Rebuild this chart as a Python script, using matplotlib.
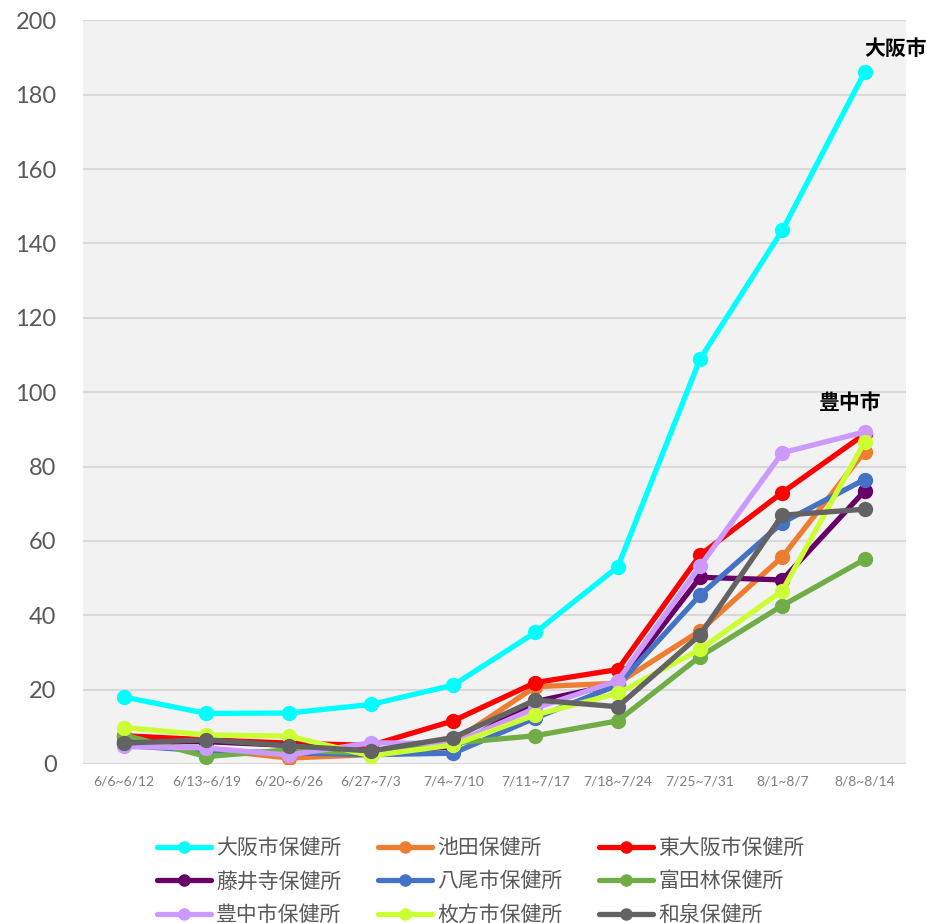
import matplotlib
matplotlib.use("Agg")
import matplotlib.pyplot as plt

plt.rcParams['font.family'] = ['Noto Sans CJK JP', 'DejaVu Sans']

weeks = ["6/6~6/12", "6/13~6/19", "6/20~6/26", "6/27~7/3", "7/4~7/10",
         "7/11~7/17", "7/18~7/24", "7/25~7/31", "8/1~8/7", "8/8~8/14"]

osaka      = [18.0, 13.6, 13.7, 16.0, 21.2, 35.4, 53.0, 108.9, 143.5, 186.0]
ikeda      = [5.5, 4.0, 1.6, 2.5, 6.0, 20.8, 21.7, 35.8, 55.7, 84.0]
higashi    = [7.6, 6.5, 5.6, 5.0, 11.6, 21.9, 25.4, 56.2, 73.0, 88.7]
fujiidera  = [6.0, 6.0, 5.0, 3.5, 4.5, 16.8, 21.5, 50.2, 49.5, 73.4]
yao        = [5.0, 3.5, 3.0, 2.5, 2.9, 12.4, 21.2, 45.4, 64.9, 76.5]
tondabayashi = [7.8, 2.0, 3.8, 2.9, 5.6, 7.6, 11.6, 28.9, 42.6, 55.0]
toyonaka   = [4.7, 4.3, 2.4, 5.7, 5.5, 15.0, 22.4, 53.2, 83.7, 89.3]
hirakata   = [9.8, 7.8, 7.5, 2.2, 5.1, 13.2, 19.0, 30.8, 46.6, 86.6]
izumi      = [5.6, 6.5, 4.9, 3.5, 7.1, 17.2, 15.4, 34.7, 66.9, 68.5]

names = ["大阪市保健所", "池田保健所", "東大阪市保健所", "藤井寺保健所", "八尾市保健所",
         "富田林保健所", "豊中市保健所", "枚方市保健所", "和泉保健所"]
series = [osaka, ikeda, higashi, fujiidera, yao, tondabayashi, toyonaka, hirakata, izumi]
colors = ["#00FFFF", "#ED7D31", "#FF0000", "#660066", "#4472C4",
          "#70AD47", "#CC99FF", "#CCFF33", "#636363"]

fig = plt.figure(figsize=(9.28, 9.23), dpi=100)
ax = fig.add_axes([0.0894, 0.1723, 0.8866, 0.8057])
ax.set_facecolor("#F2F2F2")

x = list(range(len(weeks)))
handles = []
for name, vals, c in zip(names, series, colors):
    h, = ax.plot(x, vals, color=c, lw=3.8, marker='o', markersize=10, label=name,
                 solid_joinstyle='round', solid_capstyle='round')
    handles.append(h)

ax.set_xlim(-0.5, len(weeks) - 0.5)
ax.set_ylim(0, 200)
ax.set_yticks(range(0, 201, 20))
ax.set_xticks(x)
ax.set_xticklabels(weeks, fontsize=10, color="#7F7F7F", family=['Lato', 'DejaVu Sans'])
for lab in ax.get_yticklabels():
    lab.set_family(['Lato', 'DejaVu Sans'])
ax.tick_params(axis='y', labelsize=17, labelcolor="#595959", length=0, pad=19)
ax.tick_params(axis='x', length=0, pad=8)
ax.grid(axis='y', color="#D9D9D9", lw=1.5)
ax.set_axisbelow(True)
for s in ax.spines.values():
    s.set_visible(False)

ax.text(9.38, 192.3, "大阪市", fontsize=15, fontweight='bold', ha='center', va='center', color='black')
ax.text(8.83, 97.3, "豊中市", fontsize=15, fontweight='bold', ha='center', va='center', color='black')

order = [0, 3, 6, 1, 4, 7, 2, 5, 8]
leg = fig.legend([handles[i] for i in order], [names[i] for i in order],
                 loc='lower center', bbox_to_anchor=(0.518, -0.0235), ncol=3, frameon=False,
                 fontsize=15, handlelength=2.6, handletextpad=0.25, columnspacing=1.75,
                 labelspacing=0.55, markerscale=0.8)
for t in leg.get_texts():
    t.set_color("#595959")

fig.savefig("out.png", dpi=100)
